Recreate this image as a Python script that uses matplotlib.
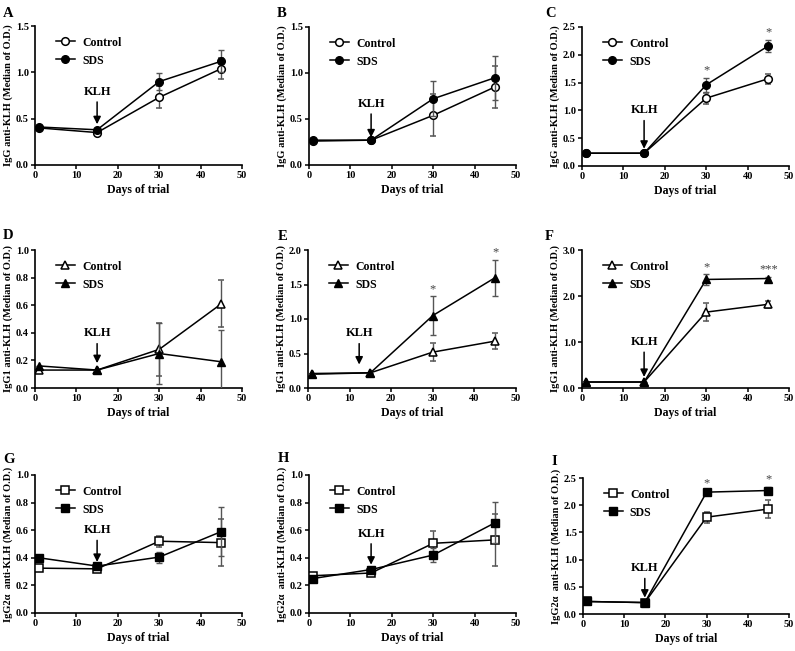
# IgG / IgG1 / IgG2a anti-KLH response, control vs SDS, 3x3 panel figure
import matplotlib
matplotlib.use('Agg')
import matplotlib.pyplot as plt
from matplotlib.lines import Line2D
from matplotlib.ticker import FormatStrFormatter

plt.rcParams['font.family'] = ['Liberation Serif', 'DejaVu Serif']
plt.rcParams['font.weight'] = 'bold'

days = [1, 15, 30, 45]

panel_letters = ['A', 'B', 'C', 'D', 'E', 'F', 'G', 'H', 'I']
ylabels = ['IgG anti-KLH (Median of O.D.)'] * 3 + \
          ['IgG1 anti-KLH (Median of O.D.)'] * 3 + \
          ['IgG2\u03b1  anti-KLH (Median of O.D.)'] * 3
markers = ['o'] * 3 + ['^'] * 3 + ['s'] * 3
ymax = [1.5, 1.5, 2.5, 1.0, 2.0, 3.0, 1.0, 1.0, 2.5]
ystep = [0.5, 0.5, 0.5, 0.2, 0.5, 1.0, 0.2, 0.2, 0.5]

control_mean = [
    [0.40, 0.35, 0.73, 1.04],
    [0.26, 0.27, 0.54, 0.85],
    [0.23, 0.23, 1.22, 1.57],
    [0.13, 0.13, 0.28, 0.61],
    [0.20, 0.22, 0.52, 0.68],
    [0.13, 0.13, 1.65, 1.82],
    [0.325, 0.32, 0.52, 0.51],
    [0.27, 0.29, 0.505, 0.53],
    [0.23, 0.21, 1.78, 1.93],
]
control_err = [
    [0.0, 0.0, 0.12, 0.11],
    [0.0, 0.0, 0.23, 0.23],
    [0.0, 0.0, 0.10, 0.09],
    [0.0, 0.0, 0.19, 0.17],
    [0.0, 0.0, 0.13, 0.12],
    [0.0, 0.0, 0.19, 0.08],
    [0.0, 0.0, 0.04, 0.17],
    [0.0, 0.0, 0.09, 0.19],
    [0.0, 0.0, 0.10, 0.16],
]
sds_mean = [
    [0.41, 0.38, 0.90, 1.12],
    [0.27, 0.27, 0.72, 0.95],
    [0.23, 0.23, 1.46, 2.16],
    [0.16, 0.13, 0.25, 0.19],
    [0.21, 0.22, 1.05, 1.60],
    [0.13, 0.13, 2.36, 2.38],
    [0.40, 0.34, 0.405, 0.59],
    [0.25, 0.315, 0.42, 0.655],
    [0.23, 0.21, 2.24, 2.27],
]
sds_err = [
    [0.0, 0.0, 0.09, 0.12],
    [0.0, 0.0, 0.19, 0.24],
    [0.0, 0.0, 0.13, 0.11],
    [0.0, 0.0, 0.22, 0.23],
    [0.0, 0.0, 0.28, 0.26],
    [0.0, 0.0, 0.11, 0.03],
    [0.0, 0.0, 0.04, 0.18],
    [0.0, 0.0, 0.05, 0.15],
    [0.0, 0.0, 0.03, 0.07],
]
# significance marks above the SDS points (day 30, day 45)
stars = [['', ''], ['', ''], ['*', '*'],
         ['', ''], ['*', '*'], ['*', '***'],
         ['', ''], ['', ''], ['*', '*']]

# KLH arrow: x of arrow, y of text, y of arrow tip
klh_x = [15, 15, 15, 15, 12.3, 15, 15, 15, 15]
klh_text_y = [0.79, 0.665, 1.0, 0.395, 0.79, 1.0, 0.60, 0.575, 0.84]
klh_tip_y = [0.44, 0.30, 0.31, 0.18, 0.34, 0.24, 0.37, 0.35, 0.30]

# axes boxes in pixels: left, right, top, bottom
boxes = [(35, 242, 26, 165), (309, 516, 27, 165), (582, 789, 27, 166),
         (35, 242, 250, 388), (308, 516, 250, 388), (582, 789, 250, 388),
         (35, 242, 475, 613), (309, 516, 475, 613), (583, 789, 478, 614)]
letter_pos = [(3, 7), (277, 7), (545, 7),
              (3, 229), (278, 230), (545, 230),
              (3, 453), (278, 452), (551, 455)]

W, H = 795, 651
fig = plt.figure(figsize=(W / 100, H / 100), dpi=100)

for i in range(9):
    l, r, t, b = boxes[i]
    ax = fig.add_axes([l / W, 1 - b / H, (r - l) / W, (b - t) / H])
    mk = markers[i]
    ax.errorbar(days, control_mean[i], yerr=control_err[i], color='black',
                ecolor='#555555', elinewidth=1, capsize=2, capthick=1,
                marker=mk, markersize=5.5, markerfacecolor='white',
                markeredgecolor='black', markeredgewidth=1.1, lw=1.1,
                zorder=3)
    ax.errorbar(days, sds_mean[i], yerr=sds_err[i], color='black',
                ecolor='#555555', elinewidth=1, capsize=2, capthick=1,
                marker=mk, markersize=5.5, markerfacecolor='black',
                markeredgecolor='black', lw=1.1, zorder=4)

    for j, s in enumerate(stars[i]):
        if s:
            ax.annotate(s, (days[2 + j], sds_mean[i][2 + j] + sds_err[i][2 + j]),
                        xytext=(0, 1), textcoords='offset points',
                        ha='center', va='bottom', fontsize=9, color='#444444',
                        fontweight='normal')

    ax.annotate('KLH', xy=(klh_x[i], klh_tip_y[i]), xytext=(klh_x[i], klh_text_y[i]),
                ha='center', va='center', fontsize=9, fontweight='bold',
                arrowprops=dict(arrowstyle='-|>', color='black', lw=1.1,
                                mutation_scale=11, shrinkA=1, shrinkB=0))

    ax.set_xlim(0, 50)
    ax.set_ylim(0, ymax[i])
    ax.set_xticks([0, 10, 20, 30, 40, 50])
    n = int(round(ymax[i] / ystep[i]))
    ax.set_yticks([k * ystep[i] for k in range(n + 1)])
    ax.yaxis.set_major_formatter(FormatStrFormatter('%.1f'))
    ax.spines['top'].set_visible(False)
    ax.spines['right'].set_visible(False)
    ax.spines['left'].set_linewidth(1.2)
    ax.spines['bottom'].set_linewidth(1.2)
    ax.tick_params(axis='both', direction='out', length=3, width=1.1,
                   labelsize=7.5, pad=1.5)
    for lab in ax.get_xticklabels() + ax.get_yticklabels():
        lab.set_fontweight('bold')
    ax.set_xlabel('Days of trial', fontsize=8.5, fontweight='bold', labelpad=3)
    ax.set_ylabel(ylabels[i], fontsize=7.5, fontweight='bold', labelpad=2)

    handles = [Line2D([], [], color='black', lw=1.1, marker=mk, markersize=5.5,
                      markerfacecolor='white', markeredgecolor='black',
                      markeredgewidth=1.1),
               Line2D([], [], color='black', lw=1.1, marker=mk, markersize=5.5,
                      markerfacecolor='black', markeredgecolor='black')]
    ax.legend(handles, ['Control', 'SDS'], loc='upper left',
              bbox_to_anchor=(0.05, 1.0), frameon=False,
              handlelength=1.6, handletextpad=0.6, labelspacing=0.5,
              prop={'weight': 'bold', 'size': 8.5})

    lx, ly = letter_pos[i]
    fig.text(lx / W, 1 - ly / H, panel_letters[i], fontsize=10.5,
             fontweight='bold', va='top', ha='left')

fig.savefig('out.png', dpi=100)
